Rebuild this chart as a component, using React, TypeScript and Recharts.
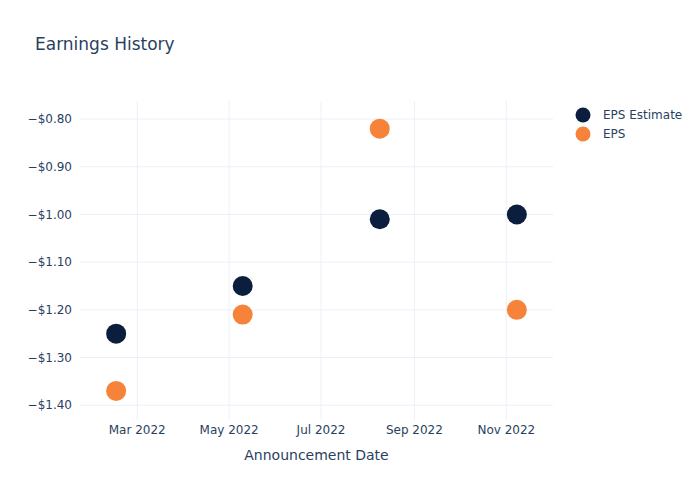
import { ScatterChart, Scatter, XAxis, YAxis, CartesianGrid } from 'recharts';

const announceDates = ['2022-02-15', '2022-05-10', '2022-08-09', '2022-11-08'];
const epsEstimate = [-1.25, -1.15, -1.01, -1.0];
const epsActual = [-1.37, -1.21, -0.82, -1.2];

const monthTicks = ['2022-03-01', '2022-05-01', '2022-07-01', '2022-09-01', '2022-11-01'];
const yTicks = [-1.4, -1.3, -1.2, -1.1, -1.0, -0.9, -0.8];
const monthNames = ['Jan', 'Feb', 'Mar', 'Apr', 'May', 'Jun', 'Jul', 'Aug', 'Sep', 'Oct', 'Nov', 'Dec'];

const ts = (d: string) => Date.parse(d + 'T00:00:00Z');

const estimateData = announceDates.map((d, i) => ({ x: ts(d), y: epsEstimate[i] }));
const actualData = announceDates.map((d, i) => ({ x: ts(d), y: epsActual[i] }));

const NAVY = '#0b1e3e';
const ORANGE = '#f7823a';
const TEXT = '#2a3f5f';
const GRID = '#ebf0f8';
const FONT = '"DejaVu Sans", "Open Sans", sans-serif';

function formatMonth(v: number) {
  const d = new Date(v);
  return `${monthNames[d.getUTCMonth()]} ${d.getUTCFullYear()}`;
}

function formatMoney(v: number) {
  const s = `$${Math.abs(v).toFixed(2)}`;
  return v < 0 ? `\u2212${s}` : s;
}

function dot(color: string) {
  return (props: any) => {
    const cx = props.cx ?? props.x + props.width / 2;
    const cy = props.cy ?? props.y + props.height / 2;
    return <circle cx={cx} cy={cy} r={10} fill={color} />;
  };
}

const legendItems = [
  { name: 'EPS Estimate', color: NAVY },
  { name: 'EPS', color: ORANGE },
];

export default function App() {
  return (
    <div style={{ position: 'absolute', left: 0, top: 0, width: 700, height: 500, background: '#fff' }}>
      <div
        style={{
          position: 'absolute',
          left: 35,
          top: 34,
          fontFamily: FONT,
          fontSize: 17,
          color: TEXT,
        }}
      >
        Earnings History
      </div>
      <div
        style={{
          position: 'absolute',
          left: 575,
          top: 105,
          fontFamily: FONT,
          fontSize: 12,
          color: TEXT,
        }}
      >
        {legendItems.map((it) => (
          <div key={it.name} style={{ display: 'flex', alignItems: 'center', height: 19 }}>
            <svg width={16} height={16} style={{ marginRight: 12 }}>
              <circle cx={8} cy={8} r={7.5} fill={it.color} />
            </svg>
            <span>{it.name}</span>
          </div>
        ))}
      </div>
      <ScatterChart width={700} height={500} margin={{ top: 101, right: 147, bottom: 0, left: 0 }}>
        <CartesianGrid stroke={GRID} strokeWidth={1} syncWithTicks />
        <XAxis
          type="number"
          dataKey="x"
          domain={[ts('2022-01-22'), ts('2022-12-02')]}
          ticks={monthTicks.map(ts)}
          tickFormatter={formatMonth}
          axisLine={false}
          tickLine={false}
          height={80}
          tick={{ fill: TEXT, fontSize: 12, fontFamily: FONT }}
          tickMargin={-1}
          label={{
            value: 'Announcement Date',
            position: 'insideTop',
            offset: 30,
            fill: TEXT,
            fontSize: 14,
            fontFamily: FONT,
          }}
        />
        <YAxis
          type="number"
          dataKey="y"
          domain={[-1.431, -0.762]}
          ticks={yTicks}
          tickFormatter={formatMoney}
          axisLine={false}
          tickLine={false}
          width={80}
          tick={{ fill: TEXT, fontSize: 12, fontFamily: FONT }}
          tickMargin={2}
        />
        <Scatter name="EPS Estimate" data={estimateData} fill={NAVY} shape={dot(NAVY)} isAnimationActive={false} />
        <Scatter name="EPS" data={actualData} fill={ORANGE} shape={dot(ORANGE)} isAnimationActive={false} />
      </ScatterChart>
    </div>
  );
}
